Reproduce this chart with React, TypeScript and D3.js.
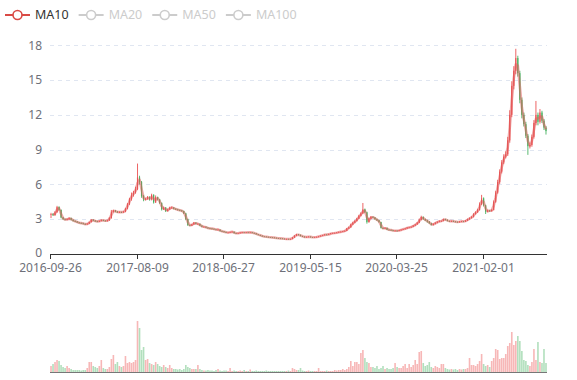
import React from 'react';
import * as d3 from 'd3';

const opens = [
  3.40, 3.45, 3.35, 3.60, 4.05, 3.80, 3.15, 3.00, 2.95, 3.00,
  3.10, 2.95, 2.85, 2.80, 2.72, 2.68, 2.65, 2.60, 2.55, 2.62,
  2.75, 2.95, 2.88, 2.82, 2.80, 2.85, 2.92, 2.88, 2.85, 2.90,
  3.10, 3.65, 3.75, 3.65, 3.60, 3.62, 3.60, 3.65, 3.90, 4.30,
  4.75, 5.10, 5.30, 5.60, 6.60, 6.20, 5.00, 4.70, 4.75, 4.90,
  4.70, 5.10, 4.45, 4.90, 4.70, 4.40, 3.85, 4.00, 3.70, 3.85,
  4.00, 4.00, 3.90, 3.85, 3.80, 3.75, 3.70, 3.50, 3.00, 2.50,
  2.45, 2.55, 2.70, 2.60, 2.60, 2.45, 2.35, 2.35, 2.28, 2.22,
  2.20, 2.18, 2.12, 2.10, 2.10, 1.98, 1.95, 1.90, 1.85, 1.85,
  1.90, 1.92, 1.80, 1.78, 1.80, 1.85, 1.87, 1.85, 1.87, 1.86,
  1.87, 1.82, 1.78, 1.70, 1.64, 1.58, 1.52, 1.50, 1.48, 1.45,
  1.44, 1.42, 1.40, 1.37, 1.35, 1.34, 1.32, 1.30, 1.30, 1.28,
  1.30, 1.42, 1.58, 1.68, 1.65, 1.55, 1.50, 1.45, 1.48, 1.50,
  1.45, 1.44, 1.46, 1.48, 1.52, 1.58, 1.62, 1.68, 1.66, 1.72,
  1.78, 1.80, 1.82, 1.86, 1.90, 1.92, 1.96, 2.00, 2.20, 2.30,
  2.55, 2.70, 2.85, 3.05, 3.30, 3.50, 3.85, 3.60, 2.75, 3.05,
  3.20, 3.15, 3.00, 2.90, 2.75, 2.25, 2.20, 2.25, 2.10, 2.08,
  2.05, 2.00, 2.02, 2.00, 2.05, 2.10, 2.15, 2.20, 2.28, 2.30,
  2.35, 2.45, 2.55, 2.70, 2.95, 3.20, 3.00, 2.90, 2.80, 2.65,
  2.50, 2.60, 2.70, 2.78, 2.85, 2.85, 3.00, 2.95, 2.85, 2.82,
  2.85, 2.80, 2.78, 2.75, 2.80, 2.82, 2.80, 2.88, 3.00, 3.10,
  3.20, 3.45, 3.60, 3.80, 4.30, 4.80, 4.20, 3.65, 3.75, 3.70,
  3.80, 4.50, 5.30, 6.20, 7.10, 7.90, 8.40, 8.60, 9.80, 12.00,
  14.50, 15.80, 16.90, 15.60, 13.30, 12.00, 11.20, 10.20, 9.30, 9.40,
  10.10, 11.30, 12.00, 11.40, 12.20, 11.50, 10.90,
];

const closes = [
  3.45, 3.35, 3.60, 4.05, 3.80, 3.15, 3.00, 2.95, 3.00, 3.10,
  2.95, 2.85, 2.80, 2.72, 2.68, 2.65, 2.60, 2.55, 2.62, 2.75,
  2.95, 2.88, 2.82, 2.80, 2.85, 2.92, 2.88, 2.85, 2.90, 3.10,
  3.65, 3.75, 3.65, 3.60, 3.62, 3.60, 3.65, 3.90, 4.30, 4.75,
  5.10, 5.30, 5.60, 6.60, 6.20, 5.00, 4.70, 4.75, 4.90, 4.70,
  5.10, 4.45, 4.90, 4.70, 4.40, 3.85, 4.00, 3.70, 3.85, 4.00,
  4.00, 3.90, 3.85, 3.80, 3.75, 3.70, 3.50, 3.00, 2.50, 2.45,
  2.55, 2.70, 2.60, 2.60, 2.45, 2.35, 2.35, 2.28, 2.22, 2.20,
  2.18, 2.12, 2.10, 2.10, 1.98, 1.95, 1.90, 1.85, 1.85, 1.90,
  1.92, 1.80, 1.78, 1.80, 1.85, 1.87, 1.85, 1.87, 1.86, 1.87,
  1.82, 1.78, 1.70, 1.64, 1.58, 1.52, 1.50, 1.48, 1.45, 1.44,
  1.42, 1.40, 1.37, 1.35, 1.34, 1.32, 1.30, 1.30, 1.28, 1.30,
  1.42, 1.58, 1.68, 1.65, 1.55, 1.50, 1.45, 1.48, 1.50, 1.45,
  1.44, 1.46, 1.48, 1.52, 1.58, 1.62, 1.68, 1.66, 1.72, 1.78,
  1.80, 1.82, 1.86, 1.90, 1.92, 1.96, 2.00, 2.20, 2.30, 2.55,
  2.70, 2.85, 3.05, 3.30, 3.50, 3.85, 3.60, 2.75, 3.05, 3.20,
  3.15, 3.00, 2.90, 2.75, 2.25, 2.20, 2.25, 2.10, 2.08, 2.05,
  2.00, 2.02, 2.00, 2.05, 2.10, 2.15, 2.20, 2.28, 2.30, 2.35,
  2.45, 2.55, 2.70, 2.95, 3.20, 3.00, 2.90, 2.80, 2.65, 2.50,
  2.60, 2.70, 2.78, 2.85, 2.85, 3.00, 2.95, 2.85, 2.82, 2.85,
  2.80, 2.78, 2.75, 2.80, 2.82, 2.80, 2.88, 3.00, 3.10, 3.20,
  3.45, 3.60, 3.80, 4.30, 4.80, 4.20, 3.65, 3.75, 3.70, 3.80,
  4.50, 5.30, 6.20, 7.10, 7.90, 8.40, 8.60, 9.80, 12.00, 14.50,
  15.80, 16.90, 15.60, 13.30, 12.00, 11.20, 10.20, 9.30, 9.40, 10.10,
  11.30, 12.00, 11.40, 12.20, 11.50, 10.90, 10.60,
];

const highs = [
  3.55, 3.52, 3.70, 4.15, 4.12, 3.85, 3.20, 3.06, 3.08, 3.16,
  3.14, 3.00, 2.90, 2.84, 2.76, 2.72, 2.70, 2.64, 2.66, 2.80,
  3.02, 3.00, 2.92, 2.86, 2.90, 2.98, 2.96, 2.92, 2.94, 3.18,
  3.80, 3.82, 3.80, 3.70, 3.68, 3.66, 3.70, 3.98, 4.40, 4.85,
  5.30, 5.45, 5.80, 7.80, 6.75, 6.30, 5.10, 4.85, 5.00, 4.98,
  5.20, 5.15, 5.05, 4.95, 4.75, 4.45, 4.08, 4.05, 3.92, 4.08,
  4.10, 4.05, 3.95, 3.90, 3.84, 3.80, 3.74, 3.55, 3.05, 2.56,
  2.60, 2.76, 2.74, 2.66, 2.63, 2.48, 2.40, 2.38, 2.31, 2.26,
  2.24, 2.20, 2.16, 2.18, 2.13, 2.02, 1.98, 1.93, 1.89, 1.93,
  1.96, 1.94, 1.83, 1.83, 1.88, 1.90, 1.89, 1.90, 1.89, 1.90,
  1.89, 1.84, 1.80, 1.72, 1.66, 1.60, 1.54, 1.52, 1.50, 1.47,
  1.46, 1.44, 1.42, 1.39, 1.37, 1.36, 1.34, 1.32, 1.32, 1.32,
  1.46, 1.62, 1.74, 1.72, 1.67, 1.57, 1.52, 1.50, 1.52, 1.52,
  1.47, 1.48, 1.50, 1.54, 1.60, 1.65, 1.71, 1.70, 1.75, 1.81,
  1.83, 1.85, 1.89, 1.93, 1.95, 1.99, 2.04, 2.25, 2.36, 2.62,
  2.78, 2.92, 3.12, 3.38, 3.60, 4.40, 3.92, 3.65, 3.12, 3.28,
  3.25, 3.18, 3.05, 2.94, 2.78, 2.30, 2.30, 2.28, 2.14, 2.12,
  2.08, 2.06, 2.05, 2.08, 2.14, 2.18, 2.24, 2.32, 2.34, 2.38,
  2.50, 2.60, 2.76, 3.05, 3.30, 3.24, 3.05, 2.94, 2.84, 2.70,
  2.64, 2.74, 2.82, 2.90, 2.90, 3.06, 3.04, 2.98, 2.88, 2.88,
  2.88, 2.83, 2.80, 2.83, 2.85, 2.85, 2.92, 3.05, 3.15, 3.26,
  3.52, 3.68, 3.90, 4.45, 5.10, 4.88, 4.25, 3.82, 3.80, 3.86,
  4.62, 5.45, 6.40, 7.30, 8.10, 8.60, 8.85, 10.10, 12.40, 14.90,
  16.20, 17.70, 17.10, 15.80, 13.50, 12.20, 11.40, 10.35, 9.60, 10.30,
  11.55, 13.20, 12.20, 12.50, 12.35, 11.65, 11.05,
];

const lows = [
  3.10, 3.28, 3.30, 3.55, 3.72, 3.08, 2.95, 2.90, 2.92, 2.96,
  2.90, 2.80, 2.76, 2.68, 2.64, 2.61, 2.56, 2.50, 2.52, 2.58,
  2.72, 2.84, 2.78, 2.76, 2.77, 2.82, 2.84, 2.81, 2.82, 2.86,
  3.05, 3.58, 3.60, 3.55, 3.55, 3.54, 3.56, 3.60, 3.85, 4.22,
  4.60, 4.95, 5.20, 5.50, 6.00, 4.85, 4.55, 4.62, 4.68, 4.60,
  4.62, 4.35, 4.40, 4.62, 4.32, 3.75, 3.80, 3.62, 3.65, 3.80,
  3.92, 3.85, 3.80, 3.75, 3.70, 3.65, 3.45, 2.92, 2.42, 2.40,
  2.42, 2.52, 2.56, 2.55, 2.40, 2.31, 2.31, 2.24, 2.18, 2.16,
  2.14, 2.09, 2.06, 2.06, 1.94, 1.92, 1.87, 1.82, 1.82, 1.83,
  1.87, 1.77, 1.75, 1.76, 1.78, 1.82, 1.83, 1.83, 1.83, 1.84,
  1.80, 1.76, 1.68, 1.62, 1.56, 1.50, 1.48, 1.46, 1.43, 1.42,
  1.40, 1.38, 1.35, 1.33, 1.32, 1.30, 1.28, 1.28, 1.26, 1.26,
  1.28, 1.40, 1.55, 1.62, 1.53, 1.48, 1.43, 1.43, 1.46, 1.43,
  1.42, 1.42, 1.44, 1.46, 1.50, 1.56, 1.60, 1.63, 1.64, 1.70,
  1.76, 1.78, 1.80, 1.84, 1.88, 1.90, 1.94, 1.97, 2.16, 2.26,
  2.50, 2.65, 2.80, 3.00, 3.24, 3.44, 3.52, 2.62, 2.70, 3.00,
  3.10, 2.95, 2.85, 2.70, 2.20, 2.15, 2.16, 2.06, 2.04, 2.01,
  1.96, 1.97, 1.95, 1.97, 2.02, 2.07, 2.12, 2.17, 2.25, 2.27,
  2.32, 2.42, 2.52, 2.66, 2.90, 2.95, 2.85, 2.70, 2.60, 2.46,
  2.47, 2.56, 2.66, 2.74, 2.80, 2.82, 2.90, 2.81, 2.79, 2.79,
  2.77, 2.75, 2.72, 2.72, 2.77, 2.77, 2.77, 2.85, 2.96, 3.06,
  3.15, 3.40, 3.55, 3.74, 4.22, 4.10, 3.45, 3.60, 3.64, 3.66,
  3.75, 4.42, 5.20, 6.05, 6.95, 7.75, 8.25, 8.45, 9.60, 11.80,
  14.20, 15.50, 15.30, 13.00, 11.70, 11.00, 10.00, 8.55, 9.10, 9.25,
  9.95, 11.10, 11.10, 11.25, 11.30, 10.70, 10.30,
];

const volumes = [
  6, 8, 10, 12, 11, 7, 5, 4, 6, 4,
  3, 2, 2, 2, 2, 1.5, 2, 2, 4, 10,
  10, 6, 5, 4, 6, 12, 4, 3, 3, 5,
  13, 17, 8, 10, 6, 5, 6, 16, 9, 10,
  9, 10, 12, 51, 44, 22, 25, 12, 13, 9,
  8, 7, 10, 8, 6, 5, 7, 5, 4, 7,
  4, 3, 3, 2.5, 3, 2, 3, 7, 5, 4,
  3, 3, 3, 7, 3, 2, 1.5, 1.5, 2, 1.5,
  1.5, 1, 2, 3, 1.5, 1, 1.5, 1.5, 1, 4,
  1, 1.5, 1, 1, 1.5, 1, 2, 1, 1, 2.5,
  1, 1, 1.5, 1, 1, 1, 1, 1.5, 1, 1,
  1, 1, 1, 1, 1, 1, 1, 1, 1.5, 1,
  4, 3, 2, 2, 4, 1.5, 1, 1, 1.5, 1,
  1, 1, 1, 4, 1, 1, 1, 1.5, 1, 1,
  1, 2, 1.5, 2, 2, 3, 2, 3, 5, 11,
  6, 10, 10, 8, 19, 22, 14, 10, 9, 5,
  5, 4, 6, 3, 4, 6, 3, 4, 3, 3,
  4, 9, 5, 4, 4, 6, 8, 4, 8, 5,
  7, 12, 8, 20, 21, 9, 6, 7, 10, 5,
  4, 6, 5, 4, 8, 8, 4, 3, 2.5, 3,
  2.5, 3, 2, 3, 2.5, 3, 3, 4, 14, 7,
  7, 6, 8, 11, 18, 8, 6, 7, 5, 11,
  14, 23, 22, 13, 14, 14, 18, 26, 29, 40,
  27, 31, 36, 31, 21, 12, 11, 7, 6, 10,
  23, 12, 30, 10, 9, 23, 9,
];

const tickLabels = ['2016-09-26', '2017-08-09', '2018-06-27', '2019-05-15', '2020-03-25', '2021-02-01'];
const tickIndex = [0, 43, 86, 129, 172, 215];
const priceTicks = [0, 3, 6, 9, 12, 15, 18];
const legendNames = ['MA10', 'MA20', 'MA50', 'MA100'];
const activeSeries = ['MA10'];
const maWindowWeeks = 2; // 10 trading days

const UP = '#eb5454';
const DOWN = '#47b262';
const FONT = '"Noto Sans", sans-serif';

export default function App() {
  const W = 577;
  const H = 380;
  const left = 50;
  const right = 547;
  const top = 45.3;
  const bottom = 254;
  const volBottom = 372;
  const volTop = 321;
  const n = closes.length;

  const x = d3.scaleBand<number>().domain(d3.range(n)).range([left, right]).padding(0);
  const bw = x.bandwidth();
  const y = d3.scaleLinear().domain([0, 18]).range([bottom, top]);
  const vy = d3.scaleLinear().domain([0, d3.max(volumes) as number]).range([volBottom, volTop]);

  const ma = closes.map((_, i) =>
    i < maWindowWeeks - 1 ? null : d3.mean(closes.slice(i - maWindowWeeks + 1, i + 1)) as number
  );
  const maLine = d3
    .line<number | null>()
    .defined((d) => d != null)
    .x((_, i) => (x(i) as number) + bw / 2)
    .y((d) => y(d as number));

  const legendCtx = typeof document !== 'undefined' ? document.createElement('canvas').getContext('2d') : null;
  if (legendCtx) legendCtx.font = `12.5px ${FONT}`;
  let lx = 5;
  const legendItems = legendNames.map((name) => {
    const w = legendCtx ? legendCtx.measureText(name).width : name.length * 8;
    const item = { name, x: lx };
    lx += 25 + 5 + w + 10;
    return item;
  });

  return (
    <svg
      width={W}
      height={H}
      style={{ position: 'absolute', left: 0, top: 0, background: '#fff' }}
      fontFamily={FONT}
    >
      {priceTicks.filter((t) => t > 0).map((t) => (
        <line
          key={'g' + t}
          x1={left}
          x2={right}
          y1={Math.round(y(t)) + 0.5}
          y2={Math.round(y(t)) + 0.5}
          stroke="#E0E6F1"
          strokeDasharray="4,4"
        />
      ))}
      {priceTicks.map((t) => (
        <text key={'yl' + t} x={left - 8} y={y(t) - (t === 0 ? 1 : 0)} dy="0.35em" textAnchor="end" fontSize={12} fill="#6E7079">
          {t}
        </text>
      ))}
      <line x1={left} x2={right} y1={bottom + 0.5} y2={bottom + 0.5} stroke="#333" />
      {tickIndex.map((ti, k) => {
        const tx = Math.round(x(ti) as number) + 0.5;
        return (
          <g key={'xt' + k}>
            <line x1={tx} x2={tx} y1={bottom} y2={bottom + 5} stroke="#333" />
            <text x={tx} y={bottom + 18} textAnchor="middle" fontSize={12} fill="#6E7079">
              {tickLabels[k]}
            </text>
          </g>
        );
      })}

      {closes.map((c, i) => {
        const o = opens[i];
        const up = c >= o;
        const col = up ? UP : DOWN;
        const cx = (x(i) as number) + bw / 2;
        const yt = y(Math.max(o, c));
        const yb = y(Math.min(o, c));
        return (
          <g key={'c' + i}>
            <line x1={cx} x2={cx} y1={y(highs[i])} y2={y(lows[i])} stroke={col} strokeWidth={0.9} />
            <rect x={cx - bw * 0.3} y={yt} width={bw * 0.6} height={Math.max(0.8, yb - yt)} fill={col} />
          </g>
        );
      })}

      <path d={maLine(ma) || ''} fill="none" stroke="#e05555" strokeOpacity={0.5} strokeWidth={2.6} strokeLinejoin="round" />

      {volumes.map((v, i) => {
        const up = closes[i] >= opens[i];
        return (
          <rect
            key={'v' + i}
            x={(x(i) as number) + bw * 0.1}
            y={vy(v)}
            width={bw * 0.8}
            height={volBottom - vy(v)}
            fill={up ? UP : DOWN}
            fillOpacity={0.42}
          />
        );
      })}
      <line x1={left} x2={right} y1={volBottom + 0.5} y2={volBottom + 0.5} stroke="#555" strokeOpacity={0.8} />

      {legendItems.map((it) => {
        const active = activeSeries.includes(it.name);
        const col = active ? '#d94a45' : '#ccc';
        return (
          <g key={it.name}>
            <line x1={it.x} x2={it.x + 25} y1={15} y2={15} stroke={col} strokeWidth={2} />
            <circle cx={it.x + 12.5} cy={15} r={4.5} fill="#fff" stroke={col} strokeWidth={1.6} />
            <text x={it.x + 30} y={15} dy="0.35em" fontSize={12.5} fill={active ? '#333' : '#ccc'}>
              {it.name}
            </text>
          </g>
        );
      })}
    </svg>
  );
}
